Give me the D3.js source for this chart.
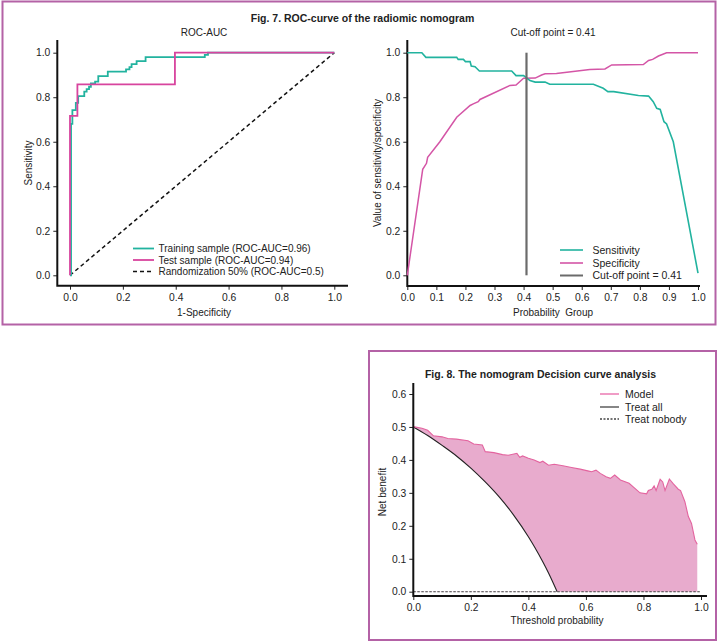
<!DOCTYPE html>
<html><head><meta charset="utf-8">
<script src="https://cdn.jsdelivr.net/npm/d3@7"></script>
<style>body{margin:0;background:#fff}svg{display:block}text{font-family:"Liberation Sans",Arial,sans-serif;fill:#222}</style>
</head><body><svg id="c" width="720" height="643"></svg>
<script>
// ---- Data ----
const trainFpr = [0, 0.004, 0.009, 0.022, 0.031, 0.054, 0.063, 0.072, 0.079, 0.095, 0.107, 0.143, 0.212, 0.225, 0.233, 0.252, 0.286, 0.51, 0.522, 1.0];
const trainTpr = [0, 0.68, 0.742, 0.775, 0.805, 0.825, 0.836, 0.847, 0.862, 0.87, 0.895, 0.915, 0.925, 0.935, 0.949, 0.962, 0.98, 0.99, 1.0, 1.0];
const testFpr = [0, 0, 0.028, 0.397, 1.0];
const testTpr = [0, 0.716, 0.858, 1.0, 1.0];
const rocLegend = ["Training sample (ROC-AUC=0.96)", "Test sample (ROC-AUC=0.94)", "Randomization 50% (ROC-AUC=0.5)"];

const sensT = [0, 0.05, 0.064, 0.17, 0.175, 0.193, 0.2, 0.216, 0.22, 0.233, 0.248, 0.359, 0.374, 0.4, 0.407, 0.422, 0.44, 0.474, 0.49, 0.64, 0.674, 0.69, 0.71, 0.795, 0.83, 0.846, 0.858, 0.87, 0.883, 0.892, 0.915, 1.0];
const sensV = [1.0, 1.0, 0.979, 0.979, 0.97, 0.97, 0.96, 0.96, 0.94, 0.937, 0.918, 0.918, 0.897, 0.897, 0.89, 0.875, 0.868, 0.868, 0.858, 0.858, 0.84, 0.825, 0.825, 0.808, 0.805, 0.78, 0.75, 0.745, 0.69, 0.68, 0.6, 0.01];
const specT = [0, 0.053, 0.066, 0.07, 0.112, 0.17, 0.216, 0.227, 0.244, 0.25, 0.353, 0.374, 0.4, 0.44, 0.462, 0.474, 0.513, 0.628, 0.68, 0.703, 0.812, 0.83, 0.844, 0.864, 0.892, 1.0];
const specV = [0, 0.476, 0.503, 0.53, 0.6, 0.71, 0.763, 0.77, 0.78, 0.79, 0.853, 0.855, 0.885, 0.886, 0.9, 0.905, 0.907, 0.925, 0.927, 0.945, 0.947, 0.965, 0.97, 0.985, 1.0, 1.0];
const cutoff = 0.41;
const cutLegend = ["Sensitivity", "Specificity", "Cut-off point = 0.41"];

const modelT = [0, 0.03, 0.05, 0.07, 0.10, 0.12, 0.15, 0.19, 0.21, 0.24, 0.25, 0.28, 0.31, 0.33, 0.35, 0.36, 0.37, 0.38, 0.40, 0.42, 0.44, 0.45, 0.47, 0.49, 0.52, 0.55, 0.58, 0.61, 0.62, 0.635, 0.65, 0.67, 0.685, 0.70, 0.72, 0.75, 0.788, 0.811, 0.817, 0.829, 0.837, 0.844, 0.858, 0.867, 0.875, 0.890, 0.904, 0.921, 0.929, 0.944, 0.956, 0.967, 0.979, 0.987];
const modelV = [0.501, 0.496, 0.49, 0.473, 0.47, 0.465, 0.463, 0.458, 0.448, 0.445, 0.425, 0.422, 0.416, 0.414, 0.418, 0.42, 0.408, 0.412, 0.405, 0.40, 0.392, 0.396, 0.384, 0.387, 0.382, 0.377, 0.372, 0.366, 0.364, 0.369, 0.359, 0.349, 0.344, 0.354, 0.339, 0.329, 0.30, 0.297, 0.307, 0.311, 0.321, 0.307, 0.341, 0.333, 0.307, 0.342, 0.327, 0.311, 0.307, 0.273, 0.228, 0.207, 0.157, 0.144];
const allT = [0, 0.05, 0.1, 0.15, 0.2, 0.25, 0.3, 0.35, 0.4, 0.42, 0.45, 0.47, 0.5];
const allV = [0.5, 0.474, 0.444, 0.412, 0.375, 0.333, 0.286, 0.231, 0.167, 0.138, 0.091, 0.057, 0];
const nobodyT = [0, 1.0];
const nobodyV = [0, 0];
const dcaLegend = ["Model", "Treat all", "Treat nobody"];

// ---- Styles ----
const TEAL = "#22b39f", MAG = "#d8449e", SPEC = "#d455a6", FRAME = "#b462a6";
const MFILL = "#e8abcd", MLINE = "#e3649f";

const svg = d3.select("#c");
const pts = (xs, ys) => xs.map((x, i) => [x, ys[i]]);

// frames
svg.append("rect").attr("x", 2.5).attr("y", 1.5).attr("width", 713).attr("height", 323)
  .attr("fill", "none").attr("stroke", FRAME).attr("stroke-width", 2);
svg.append("rect").attr("x", 369).attr("y", 351).attr("width", 347).attr("height", 289)
  .attr("fill", "none").attr("stroke", FRAME).attr("stroke-width", 2);

function text(x, y, s, opts = {}) {
  const t = svg.append("text").attr("x", x).attr("y", y).text(s)
    .attr("font-size", opts.size || 10).attr("text-anchor", opts.anchor || "middle");
  if (opts.bold) t.attr("font-weight", "bold");
  if (opts.rot) t.attr("transform", `rotate(-90,${x},${y})`);
  if (opts.pre) t.style("white-space", "pre");
  return t;
}

function axes(x, y, xl, yb, xEnd, yTop, xTicks, yTicks) {
  const gx = svg.append("g").attr("transform", `translate(0,${yb})`)
    .call(d3.axisBottom(x).tickValues(xTicks).tickFormat(d3.format(".1f")).tickSize(4).tickPadding(4));
  const gy = svg.append("g").attr("transform", `translate(${xl},0)`)
    .call(d3.axisLeft(y).tickValues(yTicks).tickFormat(d3.format(".1f")).tickSize(4).tickPadding(3));
  [gx, gy].forEach(g => {
    g.select(".domain").remove();
    g.selectAll("text").attr("font-size", 10.3).attr("fill", "#222").attr("font-family", '"Liberation Sans",Arial,sans-serif');
    g.selectAll("line").attr("stroke", "#222");
  });
  svg.append("path").attr("d", `M${xl},${yTop}V${yb}H${xEnd}`).attr("fill", "none")
    .attr("stroke", "#111").attr("stroke-width", 2);
}

// ===== Fig 7 titles =====
text(362.5, 22, "Fig. 7. ROC-curve of the radiomic nomogram", {bold: true, size: 10.5});

// ===== Left ROC =====
{
  const x = d3.scaleLinear([0, 1], [70, 334.3]);
  const y = d3.scaleLinear([0, 1], [275.3, 52.7]);
  text(204, 35.5, "ROC-AUC");
  axes(x, y, 57.3, 285.7, 348, 40, [0, 0.2, 0.4, 0.6, 0.8, 1.0], [0, 0.2, 0.4, 0.6, 0.8, 1.0]);
  text(204, 316, "1-Specificity");
  text(31.5, 163, "Sensitivity", {rot: true});
  const step = d3.line().x(d => x(d[0])).y(d => y(d[1])).curve(d3.curveStepAfter);
  const lin = d3.line().x(d => x(d[0])).y(d => y(d[1]));
  svg.append("path").attr("d", lin([[0, 0], [1, 1]])).attr("fill", "none").attr("stroke", "#111")
    .attr("stroke-width", 1.5).attr("stroke-dasharray", "4,3");
  svg.append("path").attr("d", step(pts(trainFpr, trainTpr))).attr("fill", "none").attr("stroke", TEAL).attr("stroke-width", 1.8);
  svg.append("path").attr("d", step(pts(testFpr, testTpr))).attr("fill", "none").attr("stroke", MAG).attr("stroke-width", 1.8);
  const cols = [TEAL, MAG, "#111"];
  const ly = [248.5, 260, 271.5];
  rocLegend.forEach((s, i) => {
    const l = svg.append("line").attr("x1", 133).attr("x2", 154).attr("y1", ly[i]).attr("y2", ly[i])
      .attr("stroke", cols[i]).attr("stroke-width", i == 2 ? 1.5 : 1.8);
    if (i == 2) l.attr("stroke-dasharray", "4,3");
    text(158.5, ly[i] + 3.6, s, {anchor: "start"});
  });
}

// ===== Right sens/spec =====
{
  const x = d3.scaleLinear([0, 1], [407.3, 698]);
  const y = d3.scaleLinear([0, 1], [275.3, 52.7]);
  text(553, 35.5, "Cut-off point = 0.41");
  axes(x, y, 407.3, 286, 700, 40, d3.range(0, 11).map(d => d / 10), [0, 0.2, 0.4, 0.6, 0.8, 1.0]);
  text(553, 316, "Probability  Group", {pre: true});
  text(380.5, 163, "Value of sensitivity/specificity", {rot: true});
  const lin = d3.line().x(d => x(d[0])).y(d => y(d[1]));
  svg.append("path").attr("d", lin(pts(specT, specV))).attr("fill", "none").attr("stroke", SPEC).attr("stroke-width", 1.5);
  svg.append("path").attr("d", lin(pts(sensT, sensV))).attr("fill", "none").attr("stroke", TEAL).attr("stroke-width", 1.6);
  svg.append("line").attr("x1", x(cutoff)).attr("x2", x(cutoff)).attr("y1", y(1)).attr("y2", y(0))
    .attr("stroke", "#6b6b6b").attr("stroke-width", 2.2);
  const cols = [TEAL, SPEC, "#6b6b6b"];
  const ly = [250, 263, 275.5];
  cutLegend.forEach((s, i) => {
    svg.append("line").attr("x1", 560).attr("x2", 583).attr("y1", ly[i]).attr("y2", ly[i])
      .attr("stroke", cols[i]).attr("stroke-width", i == 2 ? 2 : 1.6);
    text(592.5, ly[i] + 3.6, s, {anchor: "start", size: 10.5});
  });
}

// ===== Fig 8 DCA =====
{
  const x = d3.scaleLinear([0, 1], [413.3, 701]);
  const y = d3.scaleLinear([0, 0.6], [591.7, 394]);
  text(540.5, 378, "Fig. 8. The nomogram Decision curve analysis", {bold: true, size: 10.5});
  const model = pts(modelT, modelV);
  const area = d3.area().x(d => x(d[0])).y0(y(0)).y1(d => y(d[1]));
  svg.append("path").attr("d", area(model)).attr("fill", MFILL);
  const all = pts(allT, allV);
  svg.append("path").attr("d", d3.area().x(d => x(d[0])).y0(y(0)).y1(d => y(d[1])).curve(d3.curveMonotoneX)(all)).attr("fill", "#fff");
  svg.append("path").attr("d", d3.line().x(d => x(d[0])).y(d => y(d[1])).curve(d3.curveMonotoneX)(all))
    .attr("fill", "none").attr("stroke", "#222").attr("stroke-width", 1.1);
  svg.append("path").attr("d", d3.line().x(d => x(d[0])).y(d => y(d[1]))(model))
    .attr("fill", "none").attr("stroke", MLINE).attr("stroke-width", 1.1);
  svg.append("path").attr("d", d3.line().x(d => x(d[0])).y(d => y(d[1]))(pts(nobodyT, nobodyV)))
    .attr("fill", "none").attr("stroke", "#444").attr("stroke-width", 1.1).attr("stroke-dasharray", "2.5,1.5");
  axes(x, y, 413.3, 596, 707, 383, [0, 0.2, 0.4, 0.6, 0.8, 1.0], [0, 0.1, 0.2, 0.3, 0.4, 0.5, 0.6]);
  text(557, 624, "Threshold probability");
  text(385.5, 492, "Net benefit", {rot: true});
  const ly = [394, 407, 419];
  dcaLegend.forEach((s, i) => {
    const l = svg.append("line").attr("x1", 600).attr("x2", 619).attr("y1", ly[i]).attr("y2", ly[i])
      .attr("stroke", ["#f09cc6", "#444", "#444"][i]).attr("stroke-width", i == 0 ? 2 : 1.3);
    if (i == 2) l.attr("stroke-dasharray", "2,1.5");
    text(625, ly[i] + 3.7, s, {anchor: "start", size: 10.5});
  });
}
</script></body></html>
